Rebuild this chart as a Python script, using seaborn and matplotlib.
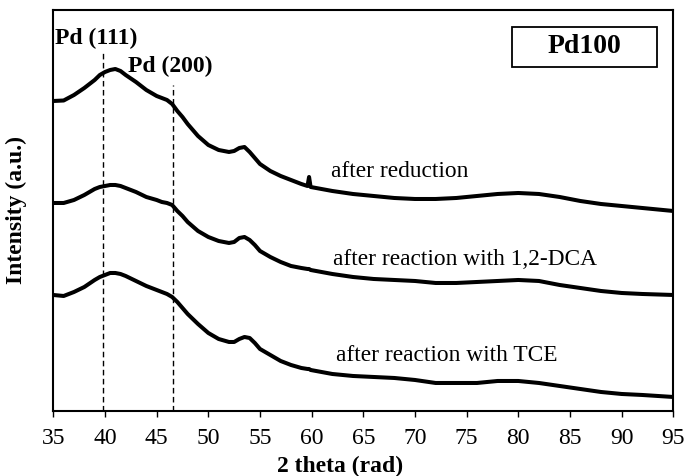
import matplotlib
matplotlib.use("Agg")
import matplotlib.pyplot as plt
import matplotlib.patches as patches
import seaborn as sns
import pandas as pd

two_theta = [35, 36, 37, 38, 39, 39.5, 40, 40.5, 41, 41.5, 42, 43, 44, 45, 45.5, 46, 46.5,
             47, 47.5, 48, 49, 50, 51, 52, 52.5, 53, 53.5, 54, 54.5, 55, 56, 57, 58, 59,
             59.6, 59.75, 59.9, 62, 64, 66, 68, 70, 72, 74, 76, 78, 80, 82, 84, 86, 88, 90, 92, 95]

after_reduction = [310, 310.5, 316, 323, 331, 336, 339, 341, 342, 340, 336, 329, 321, 315, 313,
                   311, 307, 300, 294, 287, 275, 266, 261, 259, 260, 263, 264, 259, 253, 247,
                   240, 235, 231, 227, 225, 234, 224, 220, 217, 215, 213, 212, 212, 213, 215,
                   217, 218, 217, 214, 210, 207, 205, 203, 200]
after_dca = [208, 208, 211, 216, 222, 224, 225, 226, 226, 225, 223, 219, 214, 211, 209, 208, 206,
             200, 195, 189, 180, 174, 170, 168, 169, 173, 174, 171, 166, 160, 154, 149, 145, 143,
             142, 142, 141, 137, 134, 132, 131, 130, 128, 128, 129, 130, 131, 130, 126, 123, 120,
             118, 117, 116]
after_tce = [116, 115, 119, 124, 131, 134, 136, 138, 138, 137, 135, 130, 125, 121, 119, 117, 114,
             109, 103, 97, 87, 78, 72, 69, 69, 72, 74, 73, 68, 62, 56, 50, 46, 43, 42, 42, 41,
             37, 35, 34, 33, 31, 28, 28, 28, 30, 30, 28, 25, 22, 19, 17, 16, 14]

series_names = ["after reduction", "after reaction with 1,2-DCA", "after reaction with TCE"]
peak_labels = ["Pd (111)", "Pd (200)"]
peak_positions = [39.8, 46.6]
x_ticks = [35, 40, 45, 50, 55, 60, 65, 70, 75, 80, 85, 90, 95]

rows = []
for name, vals in zip(series_names, [after_reduction, after_dca, after_tce]):
    for x, v in zip(two_theta, vals):
        rows.append({"two_theta": x, "intensity": v, "sample": name})
df = pd.DataFrame(rows)

sns.set_theme(style="white")
plt.rcParams['font.family'] = ['Liberation Serif', 'DejaVu Serif']
plt.rcParams['text.color'] = 'black'
plt.rcParams['axes.labelcolor'] = 'black'
plt.rcParams['xtick.color'] = 'black'
plt.rcParams['ytick.color'] = 'black'

fig = plt.figure(figsize=(6.89, 4.76), dpi=100)
ax = fig.add_axes([0.0774, 0.1366, 0.8998, 0.8424])

sns.lineplot(data=df, x="two_theta", y="intensity", hue="sample",
             palette=["black", "black", "black"], linewidth=2.9, legend=False,
             ax=ax, sort=False)

# dashed peak lines
ax.plot([peak_positions[0], peak_positions[0]], [0, 359], color="black", lw=1.0,
        linestyle=(0, (4, 2.5)))
ax.plot([peak_positions[1], peak_positions[1]], [0, 326], color="black", lw=1.0,
        linestyle=(0, (4, 2.5)))

ax.text(35.2, 373, peak_labels[0], fontsize=17, fontweight="bold", va="center", ha="left")
ax.text(42.2, 345, peak_labels[1], fontsize=17, fontweight="bold", va="center", ha="left")

ax.text(61.9, 234, series_names[0], fontsize=16.8, va="baseline", ha="left")
ax.text(62.05, 146, series_names[1], fontsize=16.8, va="baseline", ha="left")
ax.text(62.4, 50, series_names[2], fontsize=16.8, va="baseline", ha="left")

# Pd100 box
rect = patches.Rectangle((0.740, 0.858), 0.234, 0.100, transform=ax.transAxes,
                         fill=False, edgecolor="black", linewidth=1.3)
ax.add_patch(rect)
ax.text(0.857, 0.908, "Pd100", transform=ax.transAxes, fontsize=20, fontweight="bold",
        ha="center", va="center")

ax.set_xlim(35, 95)
ax.set_ylim(0, 401)
ax.set_xticks(x_ticks)
ax.set_xticklabels([str(t) for t in x_ticks], fontsize=17)
ax.set_yticks([])
ax.tick_params(axis="x", direction="out", length=4.5, width=1, color="black",
               pad=8, bottom=True)
for s in ax.spines.values():
    s.set_color("black")
    s.set_linewidth(1.5)

ax.set_xlabel("2 theta (rad)", fontsize=17, fontweight="bold")
ax.set_ylabel("Intensity (a.u.)", fontsize=17, fontweight="bold")
ax.xaxis.set_label_coords(0.462, -0.112)
ax.yaxis.set_label_coords(-0.042, 0.5)

fig.savefig("out.png", dpi=100)
